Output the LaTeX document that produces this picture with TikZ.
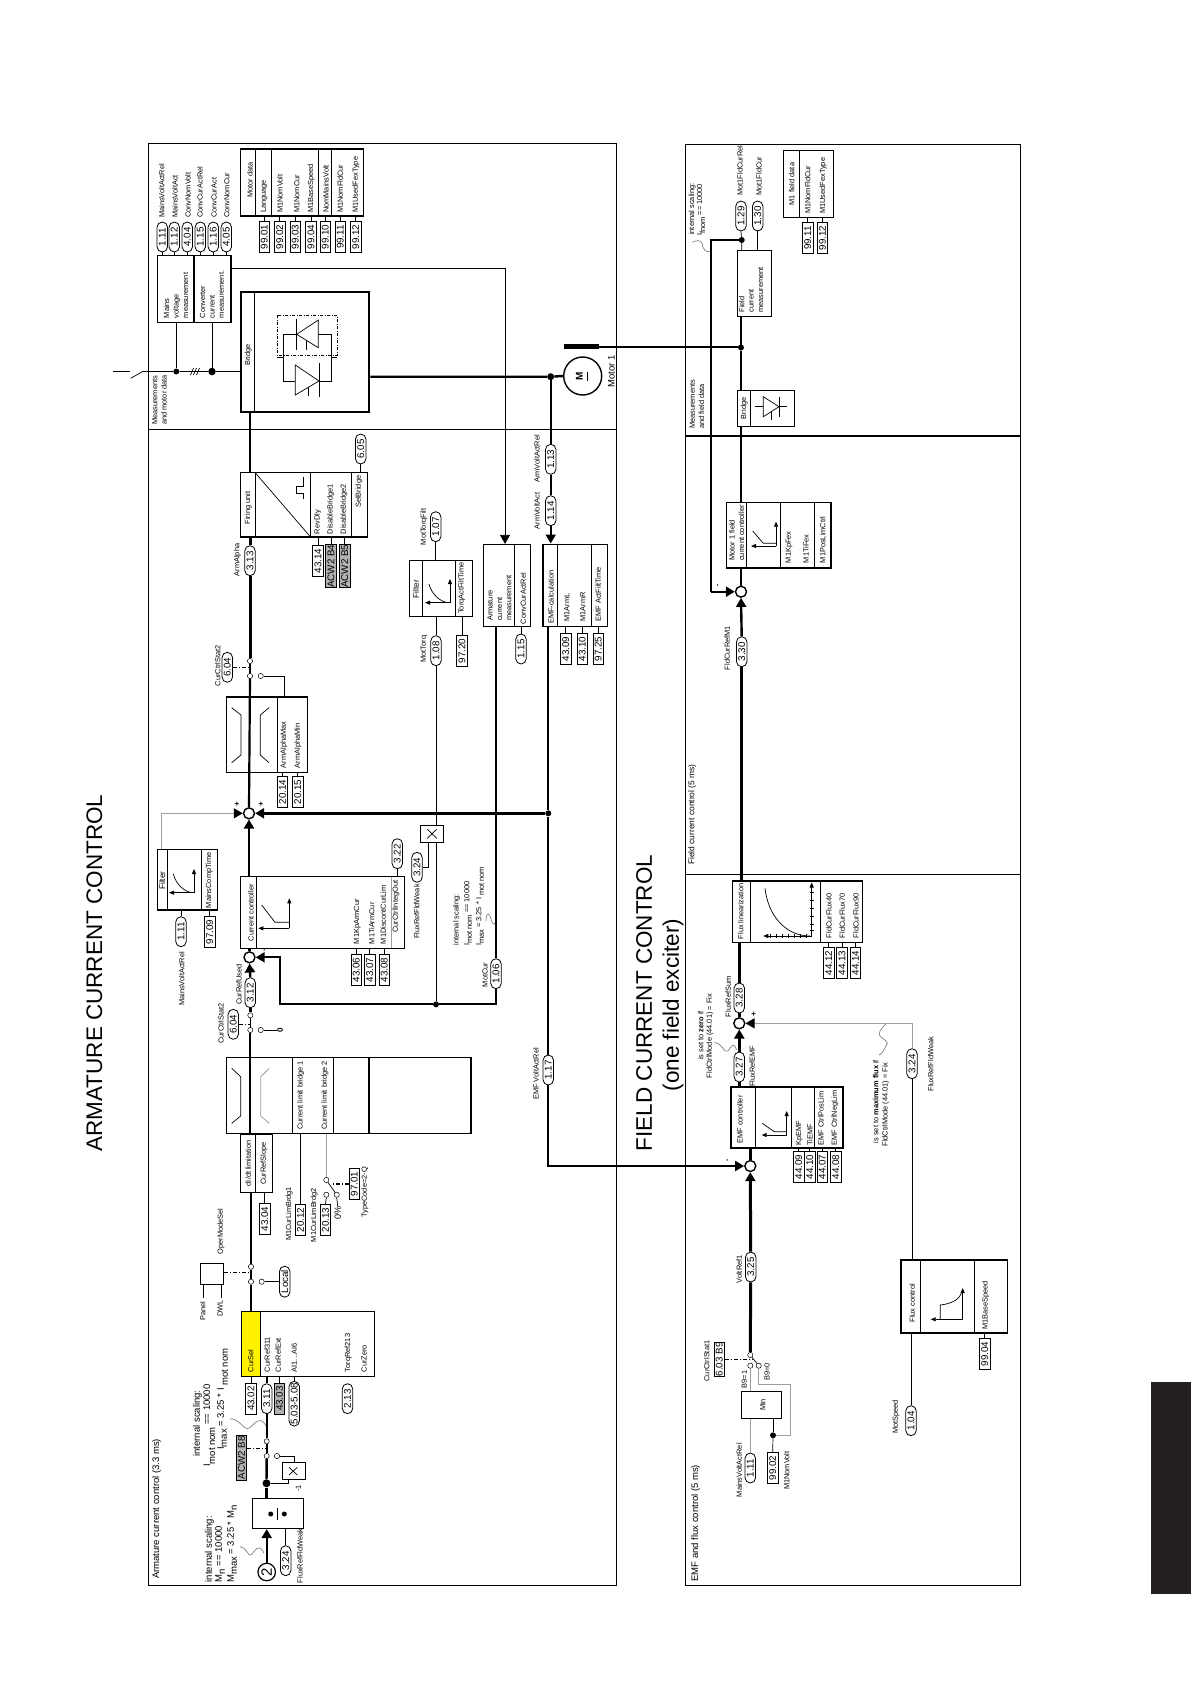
\documentclass[tikz,border=0pt]{standalone}
\usepackage{fontspec}
\setmainfont{Liberation Sans}
\usetikzlibrary{arrows.meta,fit,shapes.misc}
\definecolor{tabblack}{HTML}{231F20}
\definecolor{grayfill}{gray}{0.70}
\tikzset{
  lab/.style={rotate=90, anchor=west, inner sep=0pt, align=left, font=\fontsize{7.4}{9.4}\selectfont},
  labb/.style={lab, font=\fontsize{9.5}{11}\selectfont},
  pill/.style={draw, rotate=90, rounded rectangle, minimum width=30pt, minimum height=10.5pt, inner sep=0pt, fill=white, line width=0.8pt, font=\fontsize{9.8}{10}\selectfont},
  prm/.style={draw, rotate=90, minimum width=31pt, minimum height=10.5pt, inner sep=0pt, fill=white, line width=0.9pt, font=\fontsize{9.8}{10}\selectfont},
  prmg/.style={prm, fill=grayfill},
  blk/.style={draw, inner sep=0pt, line width=0.8pt},
  blkm/.style={blk, line width=1.3pt},
  blkh/.style={blk, line width=2pt},
  hub/.style={circle, draw, fill=white, line width=1.4pt, minimum size=11pt, inner sep=0pt},
  sw/.style={circle, draw, fill=white, line width=0.5pt, minimum size=5.2pt, inner sep=0pt},
  dot/.style={circle, fill=black, minimum size=6pt, inner sep=0pt},
  frm/.style={line width=0.8pt},
  thn/.style={line width=0.7pt},
  sig/.style={line width=2.4pt},
  sigl/.style={line width=2.2pt},
  sigh/.style={line width=3pt},
  gl/.style={line width=0.8pt, gray!75},
  ctl/.style={line width=1.2pt, dash pattern=on 4pt off 2pt on 1pt off 2pt},
  tip/.style={-{Triangle[length=9pt,width=10pt,color=black]}},
  ax/.style={line width=0.8pt, -{Triangle[length=5pt,width=4pt]}},
  plus/.style={rotate=90, inner sep=0pt, font=\bfseries\fontsize{8}{8}\selectfont},
  ttl/.style={lab, anchor=center, font=\fontsize{22.5}{22.5}\selectfont}
}
\begin{document}
\begin{tikzpicture}[x=1pt,y=-1pt]
\useasboundingbox (0,0) rectangle (1191,1684);

% Frames and titles
\draw[frm] (148,143.5) rectangle (616,1585.5);
\draw[frm] (148,429.3) -- (616,429.3);
\draw[frm] (685.3,144.3) rectangle (1020.7,1585);
\draw[line width=1.6pt] (685.3,435.7) -- (1020.7,435.7);
\draw[frm] (685.3,874.3) -- (1020.7,874.3);
\fill[tabblack] (1151,1382.3) rectangle (1191,1594);
\node[ttl] (titleA) at (94.5,973) {ARMATURE CURRENT CONTROL};
\node[ttl] (titleB) at (644,1003) {FIELD CURRENT CONTROL};
\node[ttl] (titleC) at (673,1005) {(one field exciter)};
\node[labb] (tArm) at (156.7,1579) {Armature current control (3.3 ms)};
\node[labb] (tEmf) at (695.7,1581.7) {EMF and flux control (5 ms)};
\node[lab, font=\fontsize{8.4}{10}\selectfont] (tFld) at (692.3,865) {Field current control (5 ms)};
\node[lab] (tMeasA) at (159.5,425) {Measurements\\and motor data};
\node[lab] (tMeasB) at (697,429) {Measurements\\and field data};

% Motor data
\node[blkm, fit={(240.7,149) (363.3,216)}] (mdata) {};
\foreach \x in {255.7,271.3,318.3,331.7} \draw[thn] (\x,149) -- (\x,216);
\node[lab, anchor=center] (tMdata) at (250,180) {Motor data};
\foreach \nm/\x/\txt in {tLang/264/Language,tNomV/280/M1NomVolt,tNomC/296.7/M1NomCur,tBase/311.3/M1BaseSpeed,tMainsV/326/NomMainsVolt,tFldC/340.3/M1NomFldCur,tFex/356/M1UsedFexType}
  \node[lab] (\nm) at (\x,213) {\txt};
\foreach \nm/\x/\val in {pa/264.3/99.01,pb/279.7/99.02,pc/295.3/99.03,pd/311/99.04,pe/325.3/99.10,pf/340.3/99.11,pg/355.7/99.12} {
  \node[prm] (\nm) at (\x,237) {\val};
  \draw[thn] (\nm.east) -- (\nm.east |- mdata.south);
}

% Measurements
\node[blkm, fit={(157.3,255.3) (194,322.3)}] (vmeas) {};
\node[blkm, fit={(194,255.3) (231,322.3)}] (imeas) {};
\node[lab] (tVmeas) at (176,318.3) {Mains\\voltage\\measurement};
\node[lab] (tImeas) at (212,318.3) {Converter\\current\\measurement.};
\foreach \nm/\x/\val/\lx/\txt in {qa/162.3/1.11/161.7/MainsVoltActRel,qb/174.3/1.12/175/MainsVoltAct,qc/187.3/4.04/188/ConvNomVolt,qd/200.3/1.15/200/ConvCurActRel,qe/213.3/1.16/214/ConvCurAct,qf/226.3/4.05/226.7/ConvNomCur} {
  \node[pill] (\nm) at (\x,237) {\val};
  \node[lab] (t\nm) at (\lx,218) {\txt};
  \draw[thn] (\nm.west) -- (\nm.west |- vmeas.north);
}
\node[dot] (dMains) at (176.3,371.5) {};
\node[dot, minimum size=7.5pt] (dConv) at (212,371.5) {};
\coordinate (wireA) at (112.7,371.5);
\coordinate (wireB) at (129.5,371.5);
\coordinate (wireC) at (130.7,378.3);
\coordinate (wireD) at (142.7,371.5);
\draw[thn] (wireA) -- (wireB);
\draw[thn] (wireC) -- (wireD) -- (dMains) -- (dConv);
\foreach \x in {190.5,193.5,196.5} \draw[thn] (\x,375) -- (\x+3,368);

% Bridge
\node[blkh, fit={(240.7,292.3) (369.3,411.7)}] (bridge) {};
\draw[thn] (254.7,292.3) -- (254.7,411.7);
\node[lab, anchor=center] (tBridge) at (248.3,355) {Bridge};
\draw[thn] (dMains) -- (dMains |- vmeas.south);
\draw[thn] (dConv) -- (dConv |- imeas.south);
\draw[thn] (dConv) -- (dConv -| bridge.west);
\draw[thn, dash pattern=on 3pt off 1.5pt on 1pt off 1.5pt] (277.3,315) rectangle (337.3,355);
\draw[thn] (296.7,334.3) -- (318.3,320) -- (318.3,347.7) -- cycle;
\draw[thn] (283.3,334.3) -- (296.7,334.3);
\draw[thn] (296.7,319) -- (296.7,350);
\draw[thn] (306.7,341) -- (306.7,350);
\draw[thn] (318.3,334.3) -- (331.7,334.3) -- (331.7,381) -- (319,381);
\draw[thn] (283.3,334.3) -- (283.3,381) -- (295.3,381);
\draw[thn] (277.3,357.7) -- (283.3,357.7);
\draw[thn] (331.7,357.7) -- (337.3,357.7);
\draw[thn] (295.3,365) -- (295.3,395) -- (319,381) -- cycle;
\draw[thn] (319,363.3) -- (319,396.7);
\draw[thn] (308.3,386.7) -- (308.3,395.7);

% Motor
\node[circle, draw, line width=1.4pt, minimum size=38pt, inner sep=0pt] (motor) at (582.7,376) {};
\node[lab, anchor=center, font=\bfseries\fontsize{10}{10}\selectfont] (tM) at (579.5,376) {M};
\draw[line width=1pt] (587,371.5) -- (587,380.5);
\node[lab, anchor=center, font=\fontsize{9.5}{11}\selectfont] (tMotor) at (611.3,371.7) {Motor 1};
\node[fill=black, inner sep=0pt, fit={(564,344) (598.7,349.3)}] (excbar) {};
\node[dot, minimum size=7pt] (dArm) at (550.7,376.7) {};
\draw[sig] (bridge.east |- dArm) -- (dArm) -- (motor.west);
\node[dot, minimum size=6pt] (dFld) at (741,347.5) {};
\draw[sigl] (excbar.east) -- (excbar.east -| dFld) -- (dFld);

% Firing unit
\node[blkm, fit={(240.7,472.7) (367.3,537)}] (firing) {};
\foreach \x in {255.7,310.3,351.7} \draw[thn] (\x,472.7) -- (\x,537);
\draw[thn] (255.7,473.3) -- (310.3,536.7);
\draw[thn] (303.3,477.3) -- (303.3,486) -- (296,486) -- (296,493.3) -- (303.3,493.3) -- (303.3,499.3);
\node[lab, anchor=center] (tFiring) at (248.3,508) {Firing unit};
\foreach \nm/\x/\txt in {tRev/317.7/RevDly,tDisA/330.7/DisableBridge1,tDisB/344/DisableBridge2}
  \node[lab] (\nm) at (\x,534.3) {\txt};
\node[lab] (tSel) at (359,508) {SelBridge};
\node[prm] (p4314) at (318,561) {43.14};
\node[prmg, minimum width=42pt] (pB4) at (331,566.3) {ACW2 B4};
\node[prmg, minimum width=42pt] (pB5) at (344.7,566.3) {ACW2 B5};
\foreach \nm in {p4314,pB4,pB5} \draw[thn] (\nm.east) -- (\nm.east |- firing.south);
\node[pill] (p605) at (360.7,449) {6.05};
\draw[thn] (p605.west) -- (p605.west |- firing.north);
\draw[sig] (bridge.south -| 250,0) -- (firing.north -| 250,0);

% Alpha limiter
\node[pill] (p313) at (250,560.7) {3.13};
\node[lab, anchor=center] (tAlpha) at (237.5,560) {ArmAlpha};
\node[sw] (swa) at (250,661) {};
\node[sw] (swb) at (250,676) {};
\node[sw] (swc) at (260.7,676) {};
\node[pill] (p604a) at (227.3,667.3) {6.04};
\node[lab, anchor=center] (tStatA) at (217.7,665.7) {CurCtrlStat2};
\node[blkm, fit={(226.7,697) (307.3,772.3)}] (lima) {};
\draw[thn] (277.3,697) -- (277.3,772.3);
\draw[thn] (231.7,707.7) -- (241,715) -- (241,755) -- (231.7,762.7);
\draw[thn] (269,707.7) -- (260.3,715) -- (260.3,755) -- (269,762.7);
\node[lab] (tAmax) at (284,768.3) {ArmAlphaMax};
\node[lab] (tAmin) at (298,768.3) {ArmAlphaMin};
\node[prm] (p2014) at (282.5,792) {20.14};
\node[prm] (p2015) at (297.7,792) {20.15};
\draw[thn] (p2014.east) -- (p2014.east |- lima.south);
\draw[thn] (p2015.east) -- (p2015.east |- lima.south);
\node[hub] (hubA) at (249,813.3) {};
\draw[sigh] (firing.south -| p313) -- (p313.east);
\draw[sigh] (p313.west) -- (swa.north);
\draw[sig] (swa.south) -- (swb.north);
\draw[sigl] (swb.south) -- (hubA.north);
\draw[ctl] (p604a.south) -- (p604a.south -| swa);
\draw[thn] (swc.east) -| (lima.north -| 284.3,0);

% Mains filter
\node[blkm, fit={(157.3,849.3) (217.7,910)}] (fmains) {};
\draw[thn] (167.3,849.3) -- (167.3,910);
\draw[thn] (201.7,849.3) -- (201.7,910);
\node[lab, anchor=center, font=\fontsize{8.2}{9}\selectfont] (tFiltA) at (162.3,880.7) {Filter};
\node[lab] (tComp) at (209.3,908.3) {MainsCompTime};
\draw[ax] (194,892.7) -- (169,892.7);
\draw[ax] (194,892.7) -- (194,869);
\draw[thn] (173.3,874) .. controls (176,884) and (184,892) .. (192.7,892.7);
\node[pill] (p111b) at (181,931.7) {1.11};
\node[prm] (p9709) at (209.8,932) {97.09};
\draw[thn] (p111b.east) -- (p111b.east |- fmains.south);
\draw[thn] (p9709.east) -- (p9709.east |- fmains.south);
\node[lab] (tMvar) at (181.7,1006) {MainsVoltActRel};
\draw[gl, tip] (fmains.north -| 161.7,0) |- (hubA.west);
\node[plus] (plA) at (237.3,804.3) {+};
\node[plus] (plB) at (261.3,804.3) {+};

% Current controller
\node[blkm, fit={(240.7,876.7) (404.3,948.3)}] (cctl) {};
\draw[thn] (256.3,876.7) -- (256.3,948.3);
\draw[gl] (391,876.7) -- (391,948.3);
\node[lab, anchor=center] (tCctl) at (251,912.7) {Current controller};
\draw[ax] (289.3,928.3) -- (258.3,928.3);
\draw[ax] (289.3,928.3) -- (289.3,898.3);
\draw[thn] (261.7,905) -- (275,922.3) -- (289.3,922.3);
\foreach \nm/\x/\txt in {tKp/357.3/M1KpArmCur,tTi/371.7/M1TiArmCur,tDisc/383.3/M1DiscontCurLim}
  \node[lab] (\nm) at (\x,944.3) {\txt};
\node[lab] (tInteg) at (396,932.7) {CurCtrlIntegOut};
\foreach \nm/\x/\val in {p4306/356.3/43.06,p4307/369.7/43.07,p4308/384.3/43.08} {
  \node[prm] (\nm) at (\x,970) {\val};
  \draw[thn] (\nm.east) -- (\nm.east |- cctl.south);
}
\node[pill] (p322) at (397.3,853.7) {3.22};
\draw[thn] (p322.west) -- (p322.west |- cctl.north);
\draw[sig, tip] (cctl.north -| hubA) -- (hubA.south);
\node[hub] (hubC) at (249.5,957.3) {};
\draw[sig] (cctl.south -| hubC) -- (hubC.north);
\node[pill] (p312) at (250.3,992.7) {3.12};
\draw[sig, tip] (p312.east) -- (hubC.south);
\node[lab, anchor=center] (tUsed) at (239,984.5) {CurRefUsed};
\node[rotate=90, inner sep=0pt, font=\bfseries\fontsize{7}{7}\selectfont] (mnA) at (265,950) {-};

% Feedback of the motor current
\node[pill] (p106) at (496,973.7) {1.06};
\node[lab, anchor=center] (tMotCur) at (485,975) {MotCur};
\node[dot] (dLoop) at (436,1004.3) {};
\coordinate (kLoop) at (280,1004.3);
\draw[sigl] (p106.west) |- (dLoop);
\draw[sigl, tip] (dLoop) -- (kLoop) |- (hubC.east);
\node[lab] (tScalA) at (456.7,945.7) {internal scaling:};
\node[lab] (tScalB) at (468,946) {I\raisebox{-2.5pt}{mot nom} == 10000};
\node[lab] (tScalC) at (480,946) {I\raisebox{-2.5pt}{max} = 3.25 * I\raisebox{-2.5pt}{ mot nom}};
\draw[thn, gray] (486,921) .. controls (486,911) and (490,913) .. (491,919) .. controls (492,925) and (496,927) .. (496,918);

% Torque filter
\node[blk, fit={(409.3,560.3) (472.3,616.3)}] (ftorq) {};
\draw[thn] (422.3,560.3) -- (422.3,616.3);
\draw[thn] (455.3,560.3) -- (455.3,616.3);
\node[lab, anchor=center, font=\fontsize{8.2}{9}\selectfont] (tFiltB) at (416,589) {Filter};
\node[lab] (tFtime) at (461.7,614) {TorqActFiltTime};
\draw[ax] (450,602.7) -- (425,602.7);
\draw[ax] (450,602.7) -- (450,579);
\draw[thn] (429,584) .. controls (431.5,594) and (440,602) .. (448.5,602.7);
\node[pill] (p107) at (435.7,526.7) {1.07};
\node[lab] (tTf) at (424,545.3) {MotTorqFilt};
\draw[thn] (p107.west) -- (p107.west |- ftorq.north);
\node[pill] (p108) at (436,650.7) {1.08};
\node[lab] (tTq) at (424,662.7) {MotTorq};
\draw[thn] (p108.east) -- (p108.east |- ftorq.south);
\node[prm] (p9720) at (462,651) {97.20};
\draw[thn] (p9720.east) -- (p9720.east |- ftorq.south);
\node[blk, fit={(420.3,825.3) (443.7,842.3)}] (mult) {};
\draw[thn] (427.3,829.3) -- (436.7,838.3);
\draw[thn] (436.7,829.3) -- (427.3,838.3);
\draw[thn] (p108.west) -- (p108.west |- mult.north);
\draw[thn] (p108.west |- mult.south) -- (dLoop);
\node[pill] (p324a) at (417,867.3) {3.24};
\node[lab] (tFw) at (416.7,939) {FluxRefFldWeak};
\draw[thn] (p324a.south) -| (mult.south -| 428.3,0);

% Armature current measurement
\node[blk, fit={(483.7,544.3) (530.3,626.3)}] (ameas) {};
\draw[thn] (514.7,544.3) -- (514.7,626.3);
\node[lab] (tAmeas) at (499.5,621) {Armature\\current\\measurement};
\node[lab] (tCcar) at (523.3,624.3) {ConvCurActRel};
\node[pill] (p115) at (521,649) {1.15};
\draw[thn] (p115.east) -- (p115.east |- ameas.south);
\draw[thn, tip] (imeas.east |- 0,268.3) -| (ameas.north -| 505,0);
\draw[sigl] (ameas.south -| p106) -- (p106.east);

% EMF calculation
\node[blkm, line width=1.6pt, fit={(542.7,544.3) (607.3,626.3)}] (ecalc) {};
\draw[thn] (557.3,544.3) -- (557.3,626.3);
\draw[thn] (591.7,544.3) -- (591.7,626.3);
\node[lab] (tEcalc) at (551,624) {EMF-calculation};
\foreach \nm/\x/\txt in {tAl/566.7/M1ArmL,tAr/582.7/M1ArmR,tEa/598.3/EMF ActFiltTime}
  \node[lab] (\nm) at (\x,621.7) {\txt};
\foreach \nm/\x/\val in {p4309/565.7/43.09,p4310/582.3/43.10,p9725/598.3/97.25} {
  \node[prm] (\nm) at (\x,649) {\val};
  \draw[thn] (\nm.east) -- (\nm.east |- ecalc.south);
}
\node[pill] (p113) at (550.7,459.3) {1.13};
\node[pill] (p114) at (550.7,510.7) {1.14};
\node[lab] (tAvr) at (537,483) {ArmVoltActRel};
\node[lab] (tAva) at (537,529.3) {ArmVoltAct};
\draw[sigl] (dArm) -- (p113.east);
\draw[sigl] (p113.west) -- (p114.east);
\draw[sigl, tip] (p114.west) -- (ecalc.north -| p114);
\node[dot] (dEmf) at (548.3,813.3) {};
\node[pill] (p117) at (548.3,1070) {1.17};
\node[lab, anchor=center] (tEvr) at (536,1074) {EMF VoltActRel};
\draw[sigl] (ecalc.south -| dEmf) -- (dEmf) -- (p117.east);
\draw[sigh, tip] (dEmf) -- (hubA.east);

% Reference switch and current limit
\node[sw] (swd) at (250.3,1015.3) {};
\node[sw] (swe) at (250.3,1030) {};
\node[sw] (swf) at (260.7,1030) {};
\node[pill] (p604b) at (233.3,1024.3) {6.04};
\node[lab, anchor=center] (tStatB) at (221,1023.5) {CurCtrlStat2};
\node[lab, anchor=center, font=\bfseries\fontsize{8}{8}\selectfont] (tZero) at (280,1030) {0};
\draw[sig] (p312.west) -- (swd.north);
\draw[thn] (swd.south) -- (swe.north);
\draw[thn] (swf.east) -- (tZero.north);
\draw[ctl] (p604b.south) -- (p604b.south -| swd);
\node[blkm, fit={(226.7,1057.7) (471,1133.3)}] (climit) {};
\foreach \x in {292.3,369} \draw[line width=1.3pt] (\x,1057.7) -- (\x,1133.3);
\draw[thn] (333.3,1057.7) -- (333.3,1133.3);
\draw[thn] (231.7,1068.3) -- (240.7,1076.7) -- (240.7,1116) -- (231.7,1123.3);
\draw[gl] (269.3,1068.3) -- (260.7,1076.7) -- (260.7,1116) -- (269.3,1123.3);
\node[lab] (tLimA) at (300.7,1130) {Current limit bridge 1};
\node[lab] (tLimB) at (325,1130) {Current limit bridge 2};
\draw[sigl] (swe.south) -- (climit.north -| swe) -- (climit.south -| swe);
\node[blk, line width=0.9pt, fit={(240.7,1134) (272.3,1192.3)}] (didt) {};
\draw[thn] (255.7,1134) -- (255.7,1192.3);
\node[lab, anchor=center] (tDidt) at (248.3,1163.3) {dI/dt limitation};
\node[lab, anchor=center] (tSlope) at (264,1163.3) {CurRefSlope};
\node[prm] (p4304) at (264.8,1218.8) {43.04};
\draw[thn] (p4304.east) -- (p4304.east |- didt.south);

% Limit selection
\node[prm] (p2012) at (300.5,1220) {20.12};
\node[prm] (p2013) at (325.5,1220) {20.13};
\node[lab] (tLbA) at (289.3,1241) {M1CurLimBrdg1};
\node[lab] (tLbB) at (314.3,1242.3) {M1CurLimBrdg2};
\draw[thn] (p2012.east) -- (p2012.east |- climit.south);
\node[sw] (swg) at (326.3,1180) {};
\node[sw] (swh) at (326.3,1194.7) {};
\node[sw] (swi) at (336.7,1194.7) {};
\draw[gl] (climit.south -| swg) -- (swg.north);
\draw[thn] (swh.south) -- (p2013.east);
\draw[thn] (swg) -- (swi);
\node[prm] (p9701) at (354.3,1184) {97.01};
\node[lab] (tType) at (365,1217.7) {TypeCode=2-Q};
\draw[ctl] (p9701.north) -- (330.7,1184);
\node[lab, anchor=center, font=\fontsize{9}{9}\selectfont] (tPct) at (337.7,1213) {0\%};
\draw[thn] (swi.south) -- (tPct.east);

% Operating mode switch and current selection
\node[sw] (swj) at (251,1266.7) {};
\node[sw] (swk) at (251,1281.7) {};
\node[sw] (swl) at (261.7,1281.7) {};
\draw[sig] (didt.south -| swj) -- (swj.north);
\draw[sig] (swj.south) -- (swk.north);
\node[pill, minimum width=31pt] (pLocal) at (284.7,1281.7) {Local};
\draw[thn] (swl.east) -- (pLocal.north);
\node[blk, fit={(200.3,1263.3) (223.7,1284.3)}] (opmode) {};
\draw[ctl] (opmode.east |- 0,1272.7) -- (swj |- 0,1272.7);
\draw[thn] (203.3,1284.3) -- (203.3,1298.3);
\draw[thn] (221,1284.3) -- (221,1298.3);
\node[lab] (tPanel) at (202.7,1320.7) {Panel};
\node[lab] (tDwl) at (220,1316.7) {DWL};
\node[lab] (tMode) at (221,1254.3) {OperModeSel};
\fill[yellow] (241.3,1311.3) rectangle (260.3,1376.3);
\node[blk, line width=0.9pt, fit={(241.3,1311.3) (374.3,1376.3)}] (cursel) {};
\draw[line width=1.4pt] (260.3,1311.3) -- (260.3,1376.3);
\draw[sig] (swk.south) -- (cursel.north -| swk);
\foreach \nm/\x/\txt in {tCs/250.7/CurSel,tCa/267.3/CurRef311,tCb/278.3/CurRefExt,tCd/348.3/TorqRef213,tCe/364/CurZero}
  \node[lab] (\nm) at (\x,1372.3) {\txt};
\node[lab] (tCc) at (294.3,1372.3) {AI1...AI6};
\node[prm] (p4302) at (251,1398.7) {43.02};
\node[pill] (p311) at (266.7,1398.7) {3.11};
\node[prmg] (p4303) at (279.5,1398.7) {43.03};
\node[pill, minimum width=44.7pt] (p503) at (294.2,1403.7) {5.03-5.08};
\node[pill] (p213) at (347.5,1398.7) {2.13};
\draw[thn] (p4302.east) -- (p4302.east |- cursel.south);
\draw[thn] (p4303.east) -- (p4303.east |- cursel.south);
\draw[thn] (p503.east) -- (p503.east |- cursel.south);
\draw[sig] (cursel.south -| p311) -- (p311.east);

% Field weakening input
\node[sw] (swm) at (266.7,1441.3) {};
\node[sw] (swn) at (266.7,1456) {};
\node[sw] (swo) at (277,1456) {};
\node[dot, minimum size=8pt] (dInv) at (266.5,1483.3) {};
\node[blk, fit={(282.3,1462.3) (305.7,1479.3)}] (inv) {};
\draw[thn] (289,1467.3) -- (297.3,1475);
\draw[thn] (297.3,1467.3) -- (289,1475);
\node[lab, anchor=center] (tInv) at (298.3,1488.5) {-1};
\node[blk, fit={(252.3,1498.3) (303.7,1528.7)}] (divd) {};
\node[dot, minimum size=5pt] (dvA) at (270.7,1514) {};
\node[dot, minimum size=5pt] (dvB) at (284.3,1514) {};
\draw[thn] (277.7,1508.3) -- (277.7,1520);
\node[prmg, minimum width=44.7pt] (pB8) at (241.5,1457.7) {ACW2 B8};
\draw[ctl] (pB8.south |- 0,1448.3) -- (swm |- 0,1448.3);
\draw[sig] (p311.west) -- (swm.north);
\draw[sig] (swm.south) -- (swn.north);
\draw[sig] (swn.south) -- (dInv);
\draw[sig] (dInv) -- (divd.north -| dInv);
\draw[thn] (swo.east) -| (inv.north);
\draw[thn] (dInv) -| (inv.south -| 288.3,0);
\node[labb] (tScalD) at (197.3,1456.7) {internal scaling:};
\node[labb] (tScalE) at (209.3,1467) {I\raisebox{-5pt}{mot nom} == 10000};
\node[labb] (tScalF) at (222.5,1450) {I\raisebox{-3pt}{max} = 3.25 * I\raisebox{-4pt}{ mot nom}};
\draw[thn, gray] (230,1418.7) .. controls (240,1418.7) and (244,1431) .. (249,1428) .. controls (254,1425) and (260,1414) .. (266,1426);
\node[labb] (tScalG) at (209.3,1582.3) {internal scaling:};
\node[labb] (tScalH) at (220,1582.3) {M\raisebox{-3pt}{n} == 10000};
\node[labb] (tScalI) at (232,1583) {M\raisebox{-3pt}{max} = 3.25 * M\raisebox{-3pt}{n}};
\draw[thn, gray] (240,1546.7) .. controls (246,1546) and (248,1557) .. (251,1555) .. controls (255,1552) and (258,1541) .. (264,1553.3);
\node[circle, draw, line width=1.2pt, minimum size=17.5pt, inner sep=0pt, rotate=90, font=\fontsize{15}{15}\selectfont] (cTwo) at (266.7,1572) {2};
\draw[sig, tip] (cTwo.east) -- (divd.south -| cTwo);
\node[pill] (p324b) at (285.7,1560.7) {3.24};
\draw[thn] (p324b.east) -- (p324b.east |- divd.south);
\node[lab] (tFwb) at (300,1583.3) {FluxRefFldWeak};

% Field current measurement
\node[blk, fit={(737.3,250.3) (771.7,316.7)}] (fmeas) {};
\node[lab] (tFmeas) at (751,312.7) {Field\\current\\measurement};
\node[pill] (p129) at (741,216) {1.29};
\node[pill] (p130) at (757.7,216) {1.30};
\node[lab] (tFca) at (740,195.7) {Mot1FldCurRel};
\node[lab] (tFcb) at (759,195.7) {Mot1FldCur};
\node[dot, minimum size=6pt] (dFm) at (741.7,240) {};
\draw[thn] (p129.west) -- (dFm) -- (dFm |- fmeas.north);
\draw[thn] (p130.west) -- (p130.west |- fmeas.north);
\node[lab] (tScalJ) at (692.3,235) {internal scaling:};
\node[lab] (tScalK) at (701,236) {I\raisebox{-3pt}{fnom} == 10000};
\draw[thn, gray] (692.3,242.3) .. controls (697,240) and (700,240) .. (702,243) .. controls (703,250) and (706,253) .. (711,251);
\node[blk, fit={(783.3,150.3) (833.7,217.7)}] (fdata) {};
\draw[thn] (799.3,150.3) -- (799.3,217.7);
\node[lab, anchor=center] (tFdata) at (791.7,184) {M1 field data};
\node[lab] (tFn) at (807.7,214) {M1NomFldCur};
\node[lab] (tFt) at (823.3,214) {M1UsedFexType};
\node[prm] (p9911) at (807.8,238) {99.11};
\node[prm] (p9912) at (822.5,238) {99.12};
\draw[thn] (p9911.east) -- (p9911.east |- fdata.south);
\draw[thn] (p9912.east) -- (p9912.east |- fdata.south);

% Field bridge
\node[blk, fit={(737.3,390.7) (794.3,426.3)}] (fbridge) {};
\draw[thn] (750.7,390.7) -- (750.7,426.3);
\node[lab, anchor=center] (tFb) at (744.3,408.3) {Bridge};
\draw[thn] (763.3,396.7) -- (763.3,416.7) -- (779,406.7) -- cycle;
\draw[thn] (779,396.7) -- (779,416.7);
\draw[thn] (755,406.7) -- (763.3,406.7);
\draw[thn] (779,406.7) -- (786.7,406.7);
\draw[thn] (771,411) -- (771,420);
\draw[sig] (fmeas.south -| dFld) -- (dFld) -- (fbridge.north -| dFld);

% Field current controller
\node[blkm, fit={(726.3,502.7) (831,568)}] (fctl) {};
\foreach \x in {746.7,780.7,814.7} \draw[thn] (\x,502.7) -- (\x,568);
\node[lab] (tFctl) at (736.7,561) {Motor 1 field\\current controller};
\draw[ax] (776,546) -- (751,546);
\draw[ax] (776,546) -- (776,521.7);
\draw[thn] (752.7,531) -- (763.3,543.3) -- (776,543.3);
\node[lab] (tFk) at (789,563.3) {M1KpFex};
\node[lab] (tFi) at (806,563.3) {M1TiFex};
\node[lab] (tFp) at (822.7,563.3) {M1PosLimCtrl};
\draw[sigl] (fbridge.south -| dFld) -- (fctl.north -| dFld);
\node[hub] (hubF) at (741,591.7) {};
\draw[sig] (fctl.south -| hubF) -- (hubF.north);
\coordinate (kFld) at (711,591.7);
\draw[sig] (dFm) -| (kFld);
\draw[sig, tip] (kFld) -- (hubF.west);
\node[rotate=90, inner sep=0pt, font=\bfseries\fontsize{7}{7}\selectfont] (mnB) at (718.3,585.7) {-};
\node[pill] (p330) at (741.7,651.7) {3.30};
\node[lab, anchor=center] (tFr) at (727.3,648) {FldCurRefM1};
\draw[sig, tip] (p330.east) -- (hubF.south);

% Flux linearization
\node[blkm, fit={(732.3,881) (862.3,942.3)}] (flin) {};
\draw[thn] (750.7,881) -- (750.7,942.3);
\draw[thn] (820.7,881) -- (820.7,942.3);
\node[lab] (tFlin) at (740.7,939.3) {Flux linearization};
\foreach \nm/\x/\txt in {tFa/829/FldCurFlux40,tFbb/842.3/FldCurFlux70,tFc/856/FldCurFlux90}
  \node[lab] (\nm) at (\x,938.3) {\txt};
\draw[ax] (811.7,936) -- (763.3,936);
\draw[ax] (811.7,936) -- (811.7,882.5);
\draw[thn] (765,888.3) .. controls (768,915) and (785,936) .. (810,936);
\foreach \x in {770,776,782,788,794,800,806} \draw[line width=0.5pt] (\x,934) -- (\x,938);
\foreach \y in {892,900,908,916,924,930} \draw[line width=0.5pt] (810,\y) -- (813.5,\y);
\foreach \nm/\x/\val in {p4412/828.7/44.12,p4413/842/44.13,p4414/855.5/44.14} {
  \node[prm] (\nm) at (\x,963) {\val};
  \draw[thn] (\nm.east) -- (\nm.east |- flin.south);
}
\draw[sigh] (p330.west) -- (flin.north -| p330);

% Flux reference sum
\node[pill] (p328) at (739.3,998) {3.28};
\node[lab, anchor=center] (tFs) at (728.3,996.7) {FluxRefSum};
\draw[sig] (flin.south -| p328) -- (p328.east);
\node[hub] (hubS) at (739.3,1023.3) {};
\draw[sig] (p328.west) -- (hubS.north);
\node[plus] (plC) at (754,1014.3) {+};
\node[pill] (p327) at (739.3,1067) {3.27};
\node[lab, anchor=center] (tFe) at (752.3,1066.3) {FluxRefEMF};
\draw[sig, tip] (p327.east) -- (hubS.south);
\draw[thn, gray] (714.3,1042.7) .. controls (722,1042) and (724,1054) .. (728,1051) .. controls (731,1048) and (733,1040) .. (736.7,1050);
\node[lab] (tZa) at (700.7,1060) {is set to \textbf{zero} if};
\node[lab] (tZb) at (710,1078.3) {FldCtrlMode (44.01) = Fix};
\node[lab] (tMa) at (875.7,1143.3) {is set to \textbf{maximum flux} if};
\node[lab] (tMb) at (885.7,1146.7) {FldCtrlMode (44.01) = Fix};
\draw[thn, gray] (885.7,1024) .. controls (880,1030) and (878,1033) .. (880,1036) .. controls (884,1040) and (890,1042) .. (886,1046) .. controls (884,1050) and (881,1055) .. (879,1055);
\node[pill] (p324c) at (912,1063.7) {3.24};
\node[lab] (tFwc) at (930.7,1091.7) {FluxRefFldWeak};
\draw[gl, tip] (p324c.east) |- (hubS.east);

% EMF controller
\node[blkh, fit={(730.7,1086.7) (843.3,1147.7)}] (ectl) {};
\foreach \x in {755.7,791.7,814.7} \draw[thn] (\x,1086.7) -- (\x,1147.7);
\node[lab, anchor=center] (tEctl) at (740,1119.5) {EMF controller};
\draw[ax] (786.7,1135) -- (761.7,1135);
\draw[ax] (786.7,1135) -- (786.7,1111);
\draw[thn] (762.3,1123.3) -- (774.3,1131.7) -- (786.7,1131.7);
\foreach \nm/\x/\txt in {tEk/799.3/KpEMF,tEt/810/TiEMF,tEp/821/EMF CtrlPosLim,tEn/835/EMF CtrlNegLim}
  \node[lab] (\nm) at (\x,1145.5) {\txt};
\foreach \nm/\x/\val in {p4409/798.8/44.09,p4410/809.7/44.10,p4407/822.3/44.07,p4408/835.7/44.08} {
  \node[prm] (\nm) at (\x,1167) {\val};
  \draw[thn] (\nm.east) -- (\nm.east |- ectl.south);
}
\draw[sig] (ectl.north -| p327) -- (p327.west);
\node[hub] (hubE) at (750.3,1166) {};
\draw[sigh] (ectl.south -| hubE) -- (hubE.north);
\draw[sigl, tip] (p117.west) |- (hubE.west);
\node[rotate=90, inner sep=0pt, font=\bfseries\fontsize{7}{7}\selectfont] (mnC) at (728,1160.7) {-};
\node[pill] (p325) at (750.7,1267) {3.25};
\node[lab, anchor=center] (tVr) at (739.3,1269.3) {VoltRef1};
\draw[sigh, tip] (p325.east) -- (hubE.south);

% Voltage reference selection
\node[sw] (swp) at (750.3,1355) {};
\node[sw] (swq) at (750.3,1365.7) {};
\node[sw] (swr) at (758.7,1365.7) {};
\draw[sigh] (p325.west) -- (swp.north);
\draw[thn] (swp) -- (swr);
\node[prm, minimum width=33pt] (p603) at (719.3,1359.3) {6.03 B9};
\node[lab, anchor=center] (tCs1) at (706.7,1361) {CurCtrlStat1};
\draw[ctl] (p603.south) -- (753.3,1359.3);
\node[lab] (tB1) at (744.3,1388.3) {B9=1};
\node[lab] (tB0) at (767,1380.7) {B9=0};
\node[blk, fit={(741.3,1391.3) (781.3,1418.3)}] (minb) {};
\node[lab, anchor=center] (tMin) at (762.7,1405) {Min};
\draw[gl] (swq.south) -- (swq.south |- minb.north);
\node[dot] (dMin) at (773,1435.3) {};
\coordinate (kMinA) at (758.7,1384);
\coordinate (kMinB) at (790.3,1384);
\coordinate (kMinC) at (790.3,1435.3);
\draw[gl] (swr.south) -- (kMinA) -- (kMinB) -- (kMinC) -- (dMin);
\draw[thn] (dMin) -- (dMin |- minb.south);
\node[prm] (p9902) at (772.7,1468) {99.02};
\draw[thn] (dMin) -- (p9902.east);
\node[lab] (tNv) at (786.7,1490) {M1NomVolt};
\node[pill] (p111c) at (750.3,1468) {1.11};
\draw[gl] (p111c.east) -- (p111c.east |- minb.south);
\node[lab] (tMv) at (739.3,1497.3) {MainsVoltActRel};

% Flux control
\node[blkm, line width=1.6pt, fit={(901,1260) (1007.3,1332.7)}] (fluxc) {};
\draw[thn] (920.3,1260) -- (920.3,1332.7);
\draw[thn] (974.3,1260) -- (974.3,1332.7);
\node[lab, anchor=center] (tFcc) at (912.3,1303.3) {Flux control};
\node[lab] (tBs) at (985.7,1330) {M1BaseSpeed};
\draw[ax] (962.7,1319.3) -- (930.7,1319.3);
\draw[ax] (962.7,1319.3) -- (962.7,1288);
\draw[thn] (940.3,1319.3) -- (940.3,1305) .. controls (950,1304) and (960,1300) .. (961.7,1291.7);
\node[prm] (p9904) at (984.7,1353.8) {99.04};
\draw[thn] (p9904.east) -- (p9904.east |- fluxc.south);
\node[pill] (p104) at (911,1420.7) {1.04};
\node[lab] (tMs) at (896,1434) {MotSpeed};
\draw[thn] (p104.east) -- (p104.east |- fluxc.south);
\draw[thn] (p324c.west) -- (fluxc.north -| p324c);
\end{tikzpicture}
\end{document}
